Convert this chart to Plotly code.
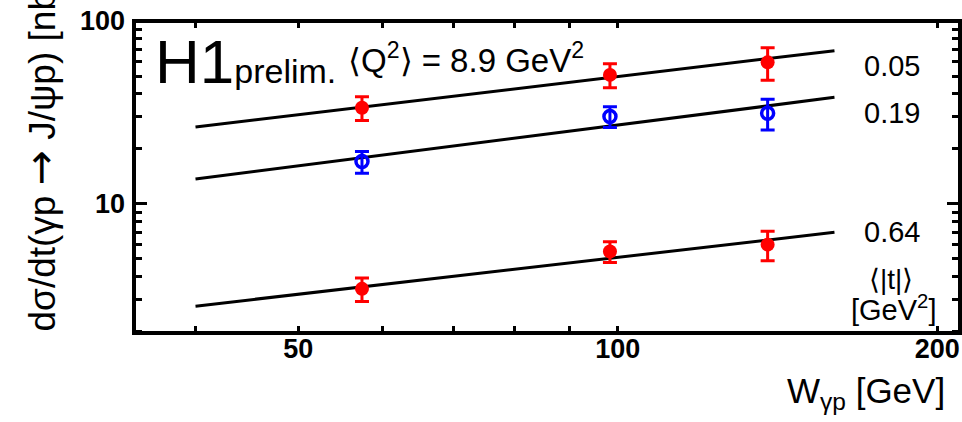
import plotly.graph_objects as go

# ---- data ----
W = [57.4, 98.3, 138.4]
xs_t005 = [33.5, 50.7, 59.4]
err_t005 = [5.0, 7.6, 12.0]
xs_t019 = [17.0, 30.0, 31.3]
err_t019 = [2.3, 3.9, 6.0]
xs_t064 = [3.42, 5.48, 5.97]
err_t064 = [0.5, 0.72, 1.1]

fit_W = [40, 160]
fit_t005 = [26.3, 68.8]
fit_t019 = [13.65, 38.2]
fit_t064 = [2.75, 6.97]

t_labels = ["0.05", "0.19", "0.64"]

x_major = [50, 100, 200]
x_long = [100]
x_minor = [40, 60, 70, 80, 90]
y_major = [10, 100]
y_minor = [2, 3, 4, 5, 6, 7, 8, 9, 20, 30, 40, 50, 60, 70, 80, 90]

RED = "#ff0000"
BLUE = "#0000ff"
FONT = "Liberation Sans, Arial, Helvetica, sans-serif"

fig = go.Figure()

for fy in [fit_t005, fit_t019, fit_t064]:
    fig.add_trace(go.Scatter(x=fit_W, y=fy, mode="lines",
                             line=dict(color="black", width=3),
                             showlegend=False, hoverinfo="skip"))

def pts(y, e, color, filled):
    return go.Scatter(
        x=W, y=y, mode="markers",
        marker=dict(symbol="circle" if filled else "circle-open",
                    size=14 if filled else 12, color=color,
                    line=dict(color=color, width=3.5 if not filled else 0)),
        error_y=dict(type="data", array=e, color=color, thickness=3, width=7),
        showlegend=False)

fig.add_trace(pts(xs_t005, err_t005, RED, True))
fig.add_trace(pts(xs_t019, err_t019, BLUE, False))
fig.add_trace(pts(xs_t064, err_t064, RED, True))

L, R, T, B = 134, 2, 21, 89
W_PX, H_PX = 962, 422
pw = W_PX - L - R
ph = H_PX - T - B

def px(xp):
    return (xp - L) / pw

def py(yp):
    return (H_PX - B - yp) / ph

annos = []
annos.append(dict(x=px(153), y=py(62), xref="paper", yref="paper",
                  text='H1<span style="font-size:34px">prelim.</span>',
                  showarrow=False, xanchor="left", yanchor="middle",
                  font=dict(family=FONT, size=62, color="black")))
annos.append(dict(x=px(346), y=py(58), xref="paper", yref="paper",
                  text="⟨Q<sup>2</sup>⟩ = 8.9 GeV<sup>2</sup>",
                  showarrow=False, xanchor="left", yanchor="middle",
                  font=dict(family=FONT, size=33, color="black")))
for lab, yy in zip(t_labels, [66, 113, 232]):
    annos.append(dict(x=px(862), y=py(yy), xref="paper", yref="paper",
                      text=lab, showarrow=False, xanchor="left", yanchor="middle",
                      font=dict(family=FONT, size=29, color="black")))
annos.append(dict(x=px(891), y=py(279), xref="paper", yref="paper",
                  text="⟨|t|⟩", showarrow=False,
                  xanchor="center", yanchor="middle",
                  font=dict(family=FONT, size=28, color="black")))
annos.append(dict(x=px(893), y=py(308), xref="paper", yref="paper",
                  text="[GeV<sup>2</sup>]", showarrow=False,
                  xanchor="center", yanchor="middle",
                  font=dict(family=FONT, size=29, color="black")))
annos.append(dict(x=px(947), y=py(393), xref="paper", yref="paper",
                  text="W<sub>γp</sub> [GeV]", showarrow=False,
                  xanchor="right", yanchor="middle",
                  font=dict(family=FONT, size=35, color="black")))
annos.append(dict(x=px(40), y=py(334), xref="paper", yref="paper",
                  text='dσ/dt(γp <span style="font-family:DejaVu Sans;font-size:42px">→</span> J/ψp) [nb/GeV<sup>2</sup>]',
                  showarrow=False,
                  textangle=-90, xanchor="center", yanchor="bottom",
                  font=dict(family=FONT, size=37, color="black")))

xrange = [1.5441, 2.3224]
fig.update_layout(
    width=W_PX, height=H_PX,
    margin=dict(l=L, r=R, t=T, b=B, pad=0),
    paper_bgcolor="white", plot_bgcolor="white",
    annotations=annos,
    shapes=[dict(type="rect", xref="paper", yref="paper", x0=0, x1=1, y0=0, y1=1,
                 line=dict(color="black", width=4), layer="above")],
    xaxis=dict(type="log", range=xrange, showgrid=False, zeroline=False,
               showline=False, ticks="inside", ticklen=7, tickwidth=3, tickcolor="black",
               mirror="ticks", tickmode="array", tickvals=x_major,
               ticktext=[str(v) for v in x_major],
               tickfont=dict(family=FONT, size=27, color="black", weight="bold"),
               ticklabelstandoff=-3,
               minor=dict(tickmode="array", tickvals=x_minor, ticks="inside",
                          ticklen=7, tickwidth=3, tickcolor="black", showgrid=False)),
    xaxis2=dict(type="log", range=xrange, overlaying="x", anchor="y", side="bottom",
                showgrid=False, zeroline=False, showline=False, ticks="inside",
                ticklen=12, tickwidth=3, tickcolor="black", mirror="ticks",
                tickmode="array", tickvals=x_long, showticklabels=False),
    yaxis=dict(type="log", range=[0.2923, 2.0], showgrid=False, zeroline=False,
               showline=False, ticks="inside", ticklen=13, tickwidth=3, tickcolor="black",
               mirror="ticks", tickmode="array", tickvals=y_major,
               ticktext=[str(v) for v in y_major],
               tickfont=dict(family=FONT, size=27, color="black", weight="bold"),
               ticklabelstandoff=8,
               minor=dict(tickmode="array", tickvals=y_minor, ticks="inside",
                          ticklen=8, tickwidth=3, tickcolor="black", showgrid=False)),
)

fig.write_html("out.html")
